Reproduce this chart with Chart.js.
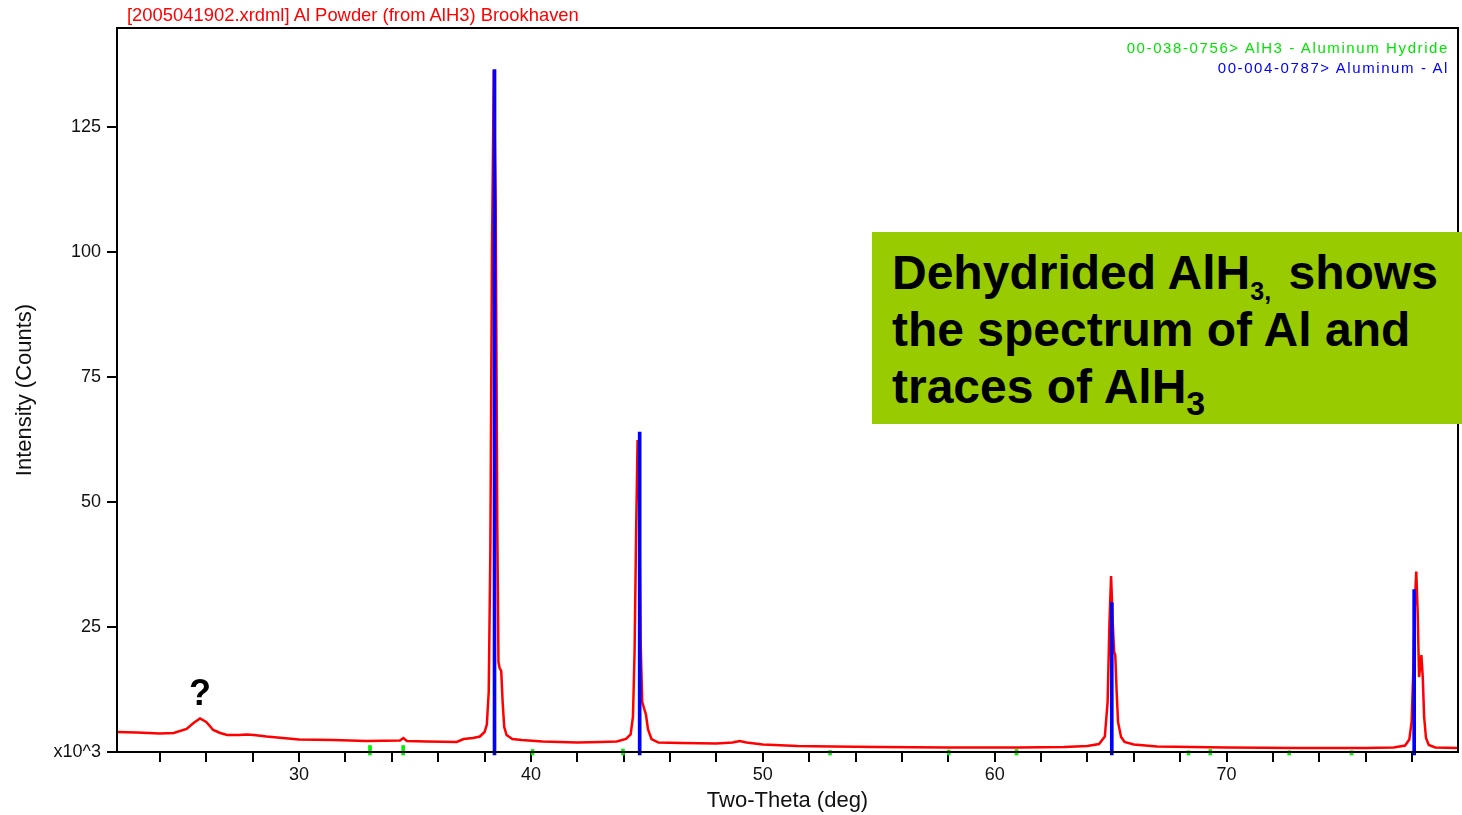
<!DOCTYPE html>
<html>
<head>
<meta charset="utf-8">
<script src="https://cdn.jsdelivr.net/npm/chart.js@4.4.1/dist/chart.umd.min.js"></script>
<style>
   body { margin: 0; background: #ffffff; }
   #wrap { position: relative; width: 1462px; height: 815px; font-family: Arial, "Liberation Sans", sans-serif; }
   #chart__1 { position: absolute; left: 0; top: 0; }
   .scanTitle { position: absolute; left: 127px; top: 6px; font-size: 18.4px; line-height: 1; color: #ff0000; white-space: nowrap; }
   .refLegend { position: absolute; right: 13px; top: 38px; font-size: 15px; line-height: 20px; letter-spacing: 1.6px; text-align: right; white-space: nowrap; }
   .refLegend .alh3 { color: #00e600; }
   .refLegend .al { color: #0000ff; }
   .question { position: absolute; left: 189px; top: 675px; font-size: 36px; line-height: 1; font-weight: bold; color: #000; }
   .note { position: absolute; left: 872px; top: 232px; width: 570px; height: 180px; padding: 12px 0 0 20px; background: #99cc00; color: #000; font-weight: bold; font-size: 48px; line-height: 57px; white-space: nowrap; }
   .note .sub1 { font-size: 25px; line-height: 1; position: relative; top: 11px; margin-right: 4px; }
   .note .sub2 { font-size: 34px; line-height: 1; position: relative; top: 12px; }
</style>
</head>
<body>
<div id="wrap">
   <canvas id="chart__1" width="1462" height="815"></canvas>
   <div class="scanTitle">[2005041902.xrdml] Al Powder (from AlH3) Brookhaven</div>
   <div class="refLegend">
      <div class="alh3">00-038-0756&gt; AlH3 - Aluminum Hydride</div>
      <div class="al">00-004-0787&gt; Aluminum - Al</div>
   </div>
   <div class="question">?</div>
   <div class="note">Dehydrided AlH<span class="sub1">3,</span> shows<br>the spectrum of Al and<br>traces of AlH<span class="sub2">3</span></div>
</div>

<script>
// DATA (intensity in x10^3 counts)
const twoTheta = [
   22.15, 23.0, 24.0, 24.6, 25.15, 25.45, 25.73, 26.0, 26.3, 26.6,
   26.9, 27.4, 27.75, 28.05, 28.6, 29.3, 30.0, 31.5, 32.9, 34.35,
   34.5, 34.65, 35.5, 36.8, 37.1, 37.5, 37.8, 38.0, 38.1, 38.18,
   38.25, 38.32, 38.4, 38.48, 38.55, 38.6, 38.65, 38.72, 38.78, 38.85,
   38.95, 39.2, 39.6, 40.5, 42.0, 43.0, 43.7, 44.1, 44.3, 44.4,
   44.47, 44.54, 44.6, 44.67, 44.73, 44.8, 44.9, 44.96, 45.05, 45.2,
   45.5, 46.5, 48.0, 48.7, 49.0, 49.3, 50.0, 51.5, 53.0, 55.0,
   58.0, 61.0, 63.0, 64.0, 64.5, 64.75, 64.87, 64.95, 65.02, 65.09,
   65.15, 65.2, 65.26, 65.32, 65.45, 65.6, 66.0, 67.0, 70.0, 73.0,
   76.0, 77.2, 77.7, 77.88, 77.98, 78.05, 78.12, 78.18, 78.24, 78.3,
   78.35, 78.4, 78.46, 78.52, 78.6, 78.72, 79.0, 80.0
];
const counts = [
   4.0, 3.9, 3.7, 3.8, 4.6, 5.8, 6.7, 6.0, 4.4, 3.8,
   3.4, 3.4, 3.5, 3.4, 3.1, 2.8, 2.5, 2.4, 2.2, 2.3,
   2.8, 2.2, 2.1, 2.0, 2.6, 2.8, 3.1, 4.0, 5.5, 12,
   40, 100, 136.4, 110, 45, 18, 16.8, 16.2, 10, 5,
   3.4, 2.6, 2.4, 2.1, 1.9, 2.0, 2.1, 2.6, 3.5, 7,
   20, 45, 62.4, 50, 22, 10, 8.4, 7.5, 4.5, 2.6,
   1.9, 1.8, 1.7, 1.9, 2.2, 1.9, 1.5, 1.2, 1.1, 1.0,
   0.9, 0.9, 1.0, 1.2, 1.6, 3.1, 10, 26, 35.2, 26,
   20, 19.4, 12, 6, 3, 2, 1.5, 1.1, 0.9, 0.8,
   0.8, 0.9, 1.3, 2.5, 6, 16, 30, 36.1, 28, 15,
   17, 19.4, 15, 7, 2.8, 1.4, 0.9, 0.8
];

// REFERENCE PATTERNS
const alPositions = [38.43, 44.69, 65.05, 78.09];
const alHeights = [136.5, 64.0, 29.9, 32.5];
const alh3Positions = [33.06, 34.49, 40.07, 43.97, 52.9, 58.02, 60.94, 68.36, 69.3, 72.7, 75.39];
const alh3Heights = [1.3, 1.3, 0.5, 0.6, 0.3, 0.4, 0.5, 0.25, 0.5, 0.25, 0.25];
const stickBase = -0.6;

// AXES
const xMin = 22.15;
const xMax = 79.98;
const xStep = 2;
const xLabelEvery = 10;
const yMax = 144.8;
const yStep = 25;
const yZeroLabel = "x10^3";

const profile = twoTheta.map((t, i) => ({ x: t, y: counts[i] }));
const alSticks = alPositions.map((p, i) => ({ x: p, y: [stickBase, alHeights[i]] }));
const alh3Sticks = alh3Positions.map((p, i) => ({ x: p, y: [stickBase, alh3Heights[i]] }));

// frame around the plot area
const framePlugin = {
   id: "frame",
   afterDraw(chart) {
      const a = chart.chartArea;
      const ctx = chart.ctx;
      ctx.save();
      ctx.strokeStyle = "#000000";
      ctx.lineWidth = 2;
      ctx.strokeRect(a.left, a.top, a.right - a.left, a.bottom - a.top);
      ctx.restore();
   },
};

const ctx1 = document.getElementById("chart__1").getContext("2d");
window.chart1 = new Chart(ctx1, {
   type: "line",
   data: {
      datasets: [
         {
            type: "bar",
            label: "00-004-0787> Aluminum - Al",
            data: alSticks,
            backgroundColor: "#0000ff",
            barThickness: 3,
            stack: "refs",
            clip: false,
            order: 0,
         },
         {
            type: "bar",
            label: "00-038-0756> AlH3 - Aluminum Hydride",
            data: alh3Sticks,
            backgroundColor: "#00ee00",
            barThickness: 3,
            stack: "refs",
            clip: false,
            order: 1,
         },
         {
            type: "line",
            label: "Al Powder",
            data: profile,
            borderColor: "#ff0000",
            borderWidth: 2.5,
            pointRadius: 0,
            tension: 0,
            fill: false,
            order: 2,
         },
      ],
   },
   options: {
      responsive: false,
      animation: false,
      layout: { padding: { top: 28, right: 4, bottom: 0, left: 0 } },
      plugins: {
         legend: { display: false },
         tooltip: { enabled: false },
      },
      scales: {
         x: {
            type: "linear",
            min: xMin,
            max: xMax,
            offset: false,
            afterFit: (scale) => { scale.height = 63; },
            border: { display: true, color: "#000000", width: 2 },
            grid: { display: true, drawOnChartArea: false, drawTicks: true, tickLength: 10, color: "#000000", lineWidth: 2, offset: false },
            ticks: {
               stepSize: xStep,
               includeBounds: false,
               autoSkip: false,
               maxRotation: 0,
               padding: 2,
               color: "#111111",
               font: { family: "Arial, 'Liberation Sans', sans-serif", size: 18 },
               callback: (v) => (v % xLabelEvery === 0 ? v : ""),
            },
            title: {
               display: true,
               text: "Two-Theta (deg)",
               color: "#111111",
               font: { family: "Arial, 'Liberation Sans', sans-serif", size: 22 },
               padding: { top: 0, bottom: 1 },
            },
         },
         y: {
            type: "linear",
            min: 0,
            max: yMax,
            afterFit: (scale) => { scale.width = 117; },
            border: { display: true, color: "#000000", width: 2 },
            grid: { display: true, drawOnChartArea: false, drawTicks: true, tickLength: 10, color: "#000000", lineWidth: 2 },
            ticks: {
               stepSize: yStep,
               includeBounds: false,
               padding: 6,
               color: "#111111",
               font: { family: "Arial, 'Liberation Sans', sans-serif", size: 18 },
               callback: (v) => (v === 0 ? yZeroLabel : v),
            },
            title: {
               display: true,
               text: "Intensity (Counts)",
               color: "#111111",
               font: { family: "Arial, 'Liberation Sans', sans-serif", size: 22 },
               padding: { top: 12, bottom: 0 },
            },
         },
      },
   },
   plugins: [framePlugin],
});
</script>
</body>
</html>
